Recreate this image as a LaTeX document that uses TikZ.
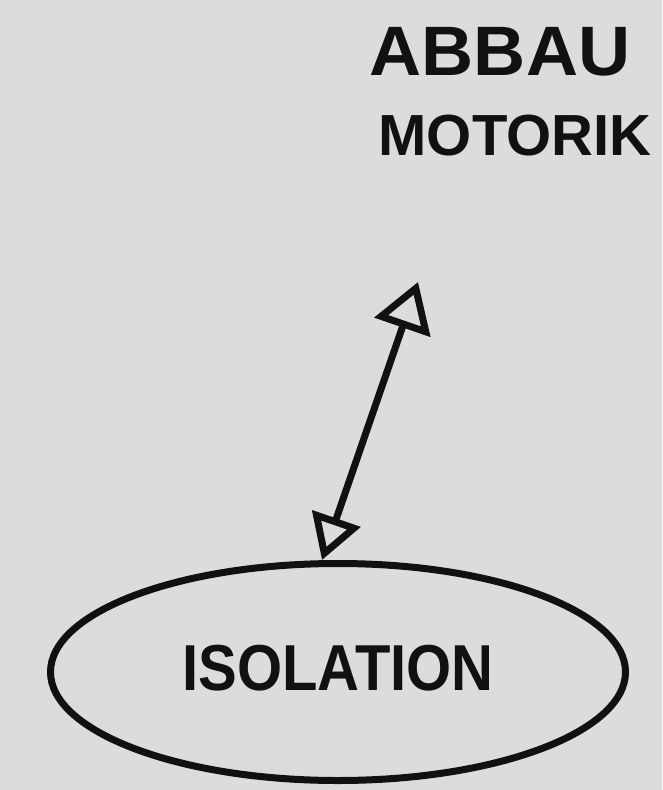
\documentclass[tikz,border=0pt]{standalone}
\usepackage{fontspec}
\setmainfont{Liberation Sans}
\usetikzlibrary{arrows.meta,shapes.geometric}
\definecolor{bg}{HTML}{DCDCDC}
\definecolor{ink}{HTML}{111111}
\tikzset{
  sketch/.style={draw=ink, line width=7pt, line cap=round, line join=round},
  label/.style={text=ink, inner sep=0pt, font=\bfseries},
}
\begin{document}
\begin{tikzpicture}[x=1pt,y=-1pt]
\useasboundingbox[fill=bg] (0,0) rectangle (662,790);
\node[label, font=\bfseries\fontsize{70}{70}\selectfont, xscale=1.03] (abbau) at (500,52) {ABBAU};
\node[label, font=\bfseries\fontsize{58}{58}\selectfont] (motorik) at (515,136) {MOTORIK};
\node[sketch, ellipse, minimum width=575pt, minimum height=217pt, inner sep=0pt] (iso) at (338,672) {};
\node[label, font=\bfseries\fontsize{58}{58}\selectfont, yscale=1.12] (isotext) at (338,668) {ISOLATION};
\coordinate (top) at (418,282);
\draw[sketch, {Triangle[open,length=48pt,width=58pt,line width=7pt]}-{Triangle[open,length=44pt,width=50pt,line width=7pt]}] (top) -- (iso.north -| 322,0);
\end{tikzpicture}
\end{document}
